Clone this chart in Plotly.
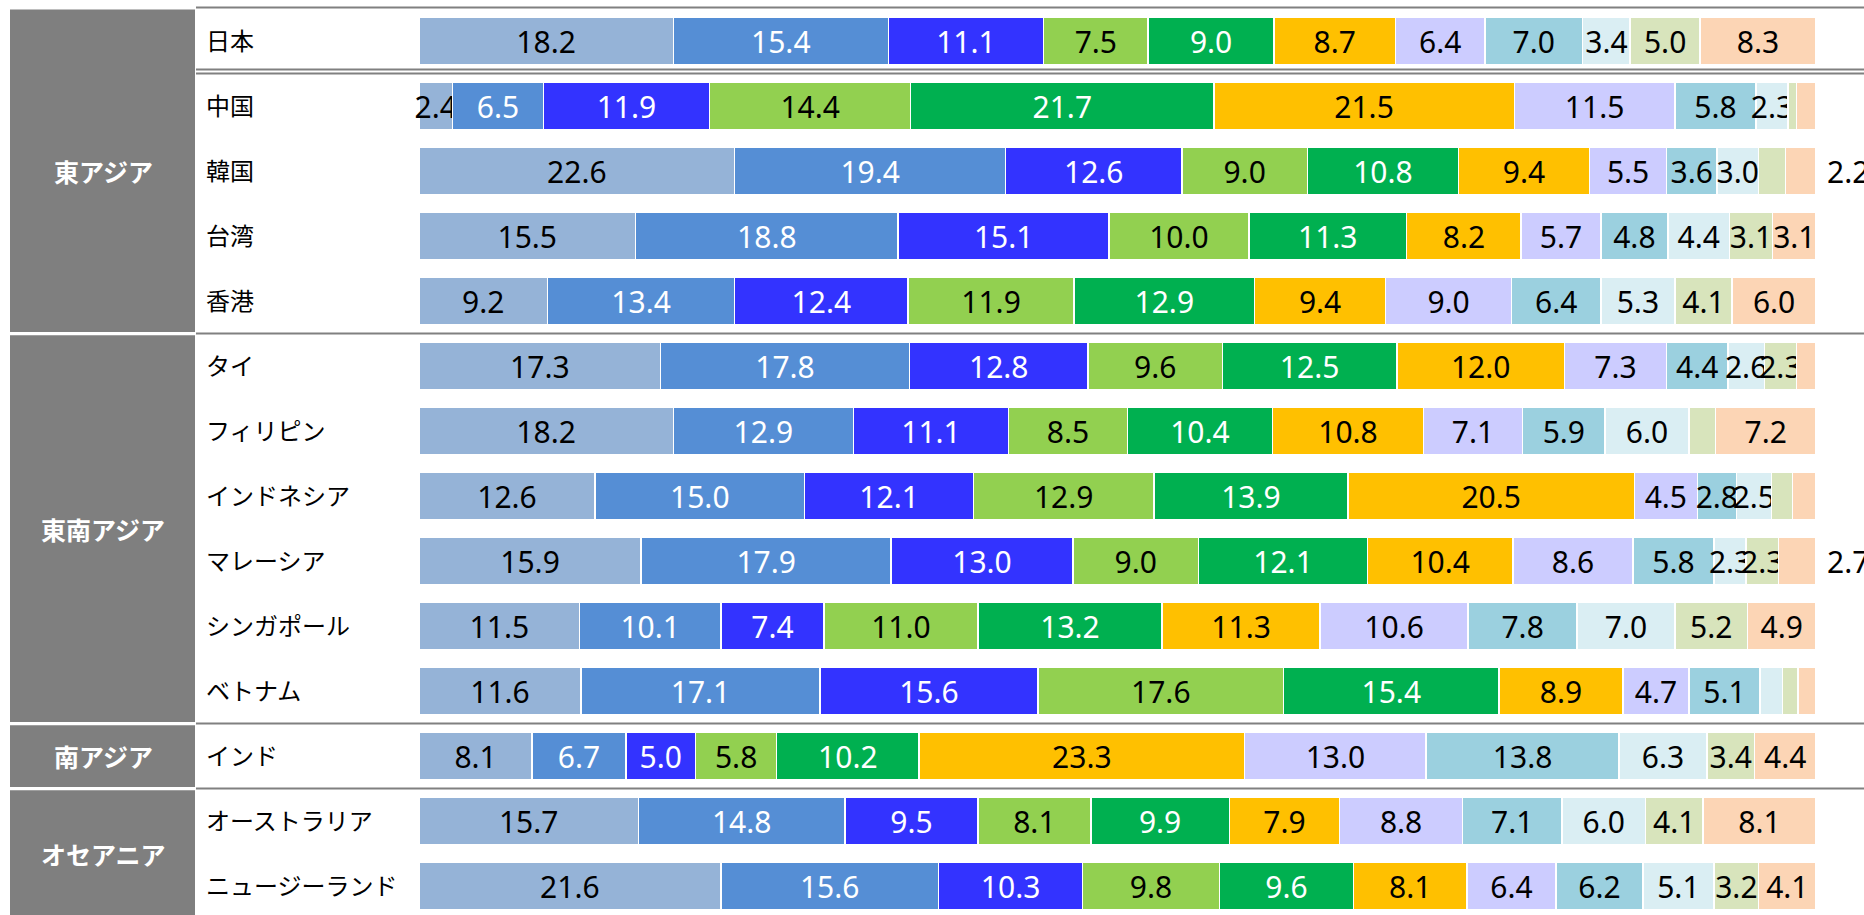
import plotly.graph_objects as go

# ---------------- data ----------------
countries = ["日本", "中国", "韓国", "台湾", "香港",
             "タイ", "フィリピン", "インドネシア", "マレーシア", "シンガポール", "ベトナム",
             "インド", "オーストラリア", "ニュージーランド"]

regions = ["東アジア", "東南アジア", "南アジア", "オセアニア"]
region_first = ["日本", "タイ", "インド", "オーストラリア"]
region_last = ["香港", "ベトナム", "インド", "ニュージーランド"]

seg1 = [18.2, 2.4, 22.6, 15.5, 9.2, 17.3, 18.2, 12.6, 15.9, 11.5, 11.6, 8.1, 15.7, 21.6]
seg2 = [15.4, 6.5, 19.4, 18.8, 13.4, 17.8, 12.9, 15.0, 17.9, 10.1, 17.1, 6.7, 14.8, 15.6]
seg3 = [11.1, 11.9, 12.6, 15.1, 12.4, 12.8, 11.1, 12.1, 13.0, 7.4, 15.6, 5.0, 9.5, 10.3]
seg4 = [7.5, 14.4, 9.0, 10.0, 11.9, 9.6, 8.5, 12.9, 9.0, 11.0, 17.6, 5.8, 8.1, 9.8]
seg5 = [9.0, 21.7, 10.8, 11.3, 12.9, 12.5, 10.4, 13.9, 12.1, 13.2, 15.4, 10.2, 9.9, 9.6]
seg6 = [8.7, 21.5, 9.4, 8.2, 9.4, 12.0, 10.8, 20.5, 10.4, 11.3, 8.9, 23.3, 7.9, 8.1]
seg7 = [6.4, 11.5, 5.5, 5.7, 9.0, 7.3, 7.1, 4.5, 8.6, 10.6, 4.7, 13.0, 8.8, 6.4]
seg8 = [7.0, 5.8, 3.6, 4.8, 6.4, 4.4, 5.9, 2.8, 5.8, 7.8, 5.1, 13.8, 7.1, 6.2]
seg9 = [3.4, 2.3, 3.0, 4.4, 5.3, 2.6, 6.0, 2.5, 2.3, 7.0, 1.6, 6.3, 6.0, 5.1]
seg10 = [5.0, 0.6, 1.9, 3.1, 4.1, 2.3, 1.9, 1.5, 2.3, 5.2, 1.1, 3.4, 4.1, 3.2]
seg11 = [8.3, 1.4, 2.2, 3.1, 6.0, 1.4, 7.2, 1.7, 2.7, 4.9, 1.3, 4.4, 8.1, 4.1]

# labels of the last segment drawn outside the bar
outside_label_countries = ["韓国", "マレーシア"]
label_min = 2.0  # smaller values carry no label

# ---------------- style ----------------
segments = [seg1, seg2, seg3, seg4, seg5, seg6, seg7, seg8, seg9, seg10, seg11]
colors = ["#95B3D7", "#558ED5", "#3333FF", "#92D050", "#00B050", "#FFC000",
          "#CCCCFF", "#9BD0DF", "#DAEEF3", "#D8E4BC", "#FCD5B5"]
text_colors = ["black", "white", "white", "black", "white", "black",
               "black", "black", "black", "black", "black"]

W, H = 1864, 915
px_per_unit = (1816 - 419) / 100.0
x_left = 419
row0_px = 41.0
row_pitch = 65.0
NUM_SIZE = 30

NUM_FONT = "Noto Sans, Noto Sans CJK JP, sans-serif"
JP_FONT = "Noto Sans CJK JP, Noto Sans, sans-serif"

fig = go.Figure()

for k, (vals, col, tcol) in enumerate(zip(segments, colors, text_colors)):
    texts = []
    for c, v in zip(countries, vals):
        if v < label_min:
            texts.append("")
        elif k == len(segments) - 1 and c in outside_label_countries:
            texts.append("")
        else:
            texts.append(f"{v:.1f}")
    fig.add_trace(go.Bar(
        y=countries, x=vals, orientation="h",
        marker=dict(color=col, line=dict(color="white", width=1.5)),
        width=0.72,
        text=texts, textposition="inside", insidetextanchor="middle",
        textangle=0, constraintext="none", cliponaxis=False,
        textfont=dict(color=tcol, size=NUM_SIZE, family=NUM_FONT),
        hoverinfo="x+y", showlegend=False,
    ))

shapes = []
annotations = []

def v_of(px):
    return (px - row0_px) / row_pitch

# region boxes
for name, a, b in zip(regions, region_first, region_last):
    i0 = countries.index(a)
    i1 = countries.index(b)
    y0 = i0 - 0.5 + 0.025
    y1 = i1 + 0.5 - 0.025
    if i0 == 0:
        y0 = v_of(9.5)
    if i1 == len(countries) - 1:
        y1 = i1 + 1.0
    shapes.append(dict(type="rect", xref="paper", yref="y",
                       x0=10 / W, x1=195 / W, y0=y0, y1=y1,
                       fillcolor="#7F7F7F", line=dict(width=0), layer="below"))
    annotations.append(dict(xref="paper", yref="y", x=103 / W, y=(i0 + i1) / 2,
                            text=f"<b>{name}</b>", showarrow=False,
                            font=dict(size=25, color="white", family=JP_FONT),
                            xanchor="center", yanchor="middle"))

# separator lines
line_rows = [v_of(7.5)]
for name, a in zip(regions, region_first):
    i0 = countries.index(a)
    if i0 > 0:
        line_rows.append(i0 - 0.5)
# double line under the first row
line_rows.append(0.5)
line_rows.append(0.5 - 4.0 / row_pitch)
for yv in line_rows:
    shapes.append(dict(type="line", xref="paper", yref="y",
                       x0=196 / W, x1=1.0, y0=yv, y1=yv,
                       line=dict(color="#808080", width=2.2)))

# country labels
for c in countries:
    annotations.append(dict(xref="paper", yref="y", x=204 / W, y=c,
                            text=c, showarrow=False, yshift=2,
                            font=dict(size=24, color="black", family=JP_FONT),
                            xanchor="left", yanchor="middle"))

# outside labels of the last segment
for c in outside_label_countries:
    i = countries.index(c)
    total = sum(s[i] for s in segments)
    annotations.append(dict(xref="x", yref="y", x=total + 2.3, y=c,
                            text=f"{seg11[i]:.1f}", showarrow=False,
                            font=dict(size=NUM_SIZE, color="black", family=NUM_FONT),
                            xanchor="center", yanchor="middle"))

x_max = (W - x_left) / px_per_unit
y_top = v_of(0)
y_bottom = v_of(H)

fig.update_layout(
    width=W, height=H,
    margin=dict(l=0, r=0, t=0, b=0, pad=0),
    paper_bgcolor="white", plot_bgcolor="white",
    barmode="stack",
    bargap=0.28,
    uniformtext=dict(minsize=NUM_SIZE, mode="show"),
    xaxis=dict(domain=[x_left / W, 1.0], range=[0, x_max],
               showgrid=False, zeroline=False, showticklabels=False,
               showline=False, ticks=""),
    yaxis=dict(type="category", categoryorder="array", categoryarray=countries,
               range=[y_bottom, y_top],
               showgrid=False, zeroline=False, showticklabels=False,
               showline=False, ticks=""),
    shapes=shapes,
    annotations=annotations,
    font=dict(family=JP_FONT),
)

fig.write_html("out.html")
